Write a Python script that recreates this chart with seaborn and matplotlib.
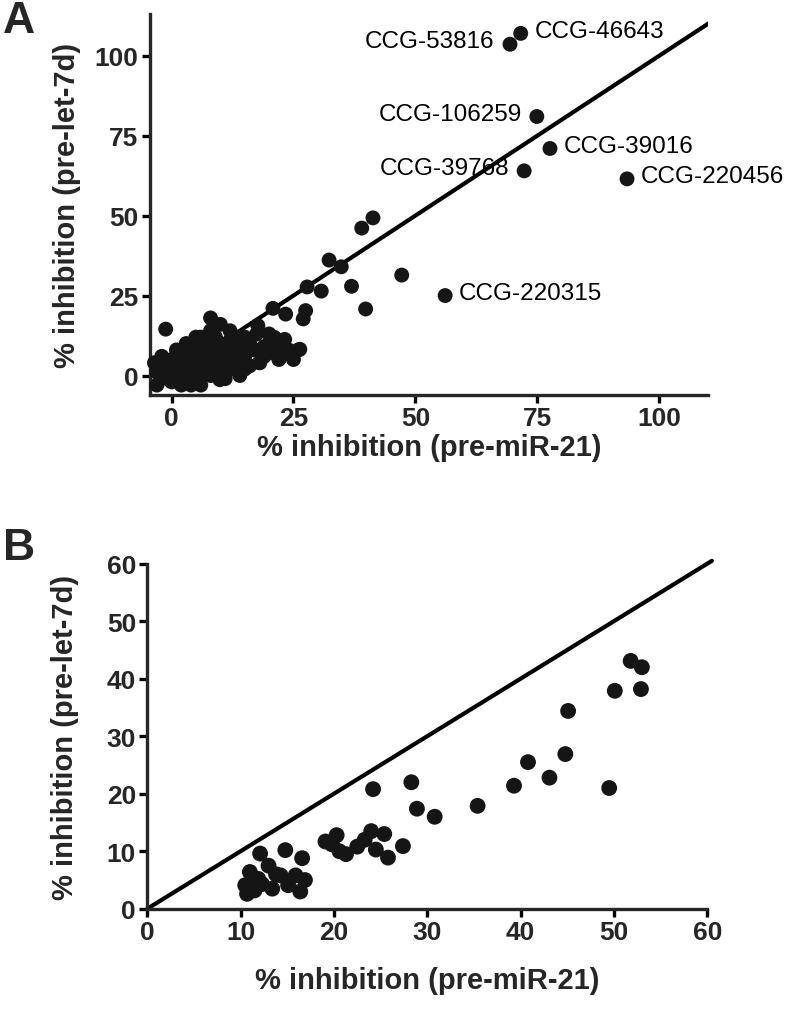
import numpy as np
import pandas as pd
import matplotlib
matplotlib.use("Agg")
import matplotlib.pyplot as plt
import seaborn as sns

# ---- panel A: pre-miR-21 vs pre-let-7d, full screen ----
a_x = [-3, -2, -3, -2, -3.5, -1, 0, 0, 0, 1, 1, 1, 2, 2, 2, 3, 3, 3, 4, 4, 4, 5, 5, 5,
       6, 6, 6, 7, 7, 7, 7, 8, 8, 8, 8, 8, 8, 9, 9, 9, 10, 10, 10, 11, 11, 12, 12, 13,
       13, 14, 14, 15, 15, 16, 17, 18, 19, 20, 21, 22, 23, 24, 26, -1.2, 9.9, 6, 4, 2,
       -2, 0, -1, 3, 5, 6, 12, 11, 14, 17.4, 17.7, 18.1, 20.8, 23.4, 21.1, 22.2, 23.2,
       26.3, 27.0, 27.5, 27.8, 30.7, 32.3, 34.8, 36.9, 39.0, 41.3, 47.2, 39.8, 13.6,
       1, 3, 5, 10, 12, 14, 16, 19, 20, 22, 25, 15, 18]
a_y = [-3, -1, 1, 3, 4, 0, -2, 1, 3, -1, 2, 5, 0, 3, 6, -2, 1, 4, 2, 5, 7, 0, 3, 6,
       1, 4, 8, 2, 5, 9, 12, 0, 3, 7, 10, 14, 18, 4, 8, 12, 1, 6, 10, 3, 8, 5, 11, 2,
       7, 4, 9, 6, 12, 3, 8, 4, 6, 10, 7, 5, 11, 8, 8, 14.5, -1.3, -3, -3, -3,
       6, 5, 2, 8, 10, 12, 2, -1, 0, 12.9, 15.6, 4.0, 21.0, 19.2, 11.9, 5.5, 11.3,
       8.2, 17.7, 20.3, 27.7, 26.4, 36.1, 34.0, 27.9, 46.1, 49.3, 31.4, 20.8, 8.7,
       8, 10, 12, 16, 14, 12, 10, 9, 13, 9, 5, 2, 8]

# labelled hits
hit_names = ["CCG-53816", "CCG-46643", "CCG-106259", "CCG-39016",
             "CCG-39768", "CCG-220456", "CCG-220315"]
hit_x = [69.4, 71.6, 74.9, 77.6, 72.3, 93.4, 56.1]
hit_y = [103.6, 107.0, 81.0, 71.0, 64.0, 61.5, 25.0]
hit_side = ["left", "right", "left", "right", "left", "right", "right"]

# ---- panel B: counter screen ----
b_x = [10.5, 10.7, 11.0, 11.9, 12.1, 13.0, 13.4, 14.3, 14.8, 15.1, 15.9, 16.4, 16.6,
       12.3, 11.5, 16.9, 13.8, 19.1, 20.3, 19.8, 20.6, 21.3, 22.5, 23.3, 24.0, 24.5,
       25.4, 25.8, 27.4, 24.2, 28.3, 28.9, 30.8, 35.4, 39.3, 40.8, 43.1, 44.8, 45.1,
       49.5, 50.1, 51.8, 52.9, 53.0]
b_y = [4.1, 2.6, 6.4, 5.2, 9.6, 7.5, 3.5, 5.8, 10.2, 4.1, 5.8, 3.0, 8.8,
       4.3, 3.2, 5.0, 6.0, 11.7, 12.8, 11.2, 10.0, 9.5, 10.8, 12.0, 13.5, 10.3,
       13.0, 8.9, 10.9, 20.8, 22.0, 17.4, 16.0, 17.9, 21.4, 25.5, 22.8, 26.9, 34.4,
       21.0, 37.9, 43.1, 38.2, 42.0]

diag_a = [-5, 113]
diag_b = [0, 60.5]

sns.set_theme(style="ticks")
plt.rcParams["font.family"] = ["Liberation Sans", "DejaVu Sans"]

DOT = "#151515"
fig = plt.figure(figsize=(8, 10.12), dpi=100)

ax_a = fig.add_axes([0.187, 0.609, 0.698, 0.376])
ax_b = fig.add_axes([0.184, 0.101, 0.700, 0.341])

df_a = pd.DataFrame({"x": a_x + hit_x, "y": a_y + hit_y})
sns.scatterplot(data=df_a, x="x", y="y", ax=ax_a, s=115, color=DOT,
                edgecolor="none", linewidth=0, clip_on=False, zorder=3)
ax_a.plot(diag_a, diag_a, color="black", lw=3.0, zorder=2)
ax_a.set_xlim(-4.5, 110)
ax_a.set_ylim(-6, 113)
ax_a.set_xticks([0, 25, 50, 75, 100])
ax_a.set_yticks([0, 25, 50, 75, 100])

for name, x, y, side in zip(hit_names, hit_x, hit_y, hit_side):
    dx = 10 if side == "right" else -11
    ax_a.annotate(name, (x, y), xytext=(dx, 2), textcoords="offset points",
                  ha="left" if side == "right" else "right", va="center",
                  fontsize=17.5, color="black")

df_b = pd.DataFrame({"x": b_x, "y": b_y})
sns.scatterplot(data=df_b, x="x", y="y", ax=ax_b, s=130, color=DOT,
                edgecolor="none", linewidth=0, zorder=3)
ax_b.plot(diag_b, diag_b, color="black", lw=3.0, zorder=2, clip_on=False)
ax_b.set_xlim(0, 60)
ax_b.set_ylim(0, 60)
ax_b.set_xticks(range(0, 61, 10))
ax_b.set_yticks(range(0, 61, 10))

for ax, xpad, ypad in ((ax_a, 2, 10), (ax_b, 16, 20)):
    sns.despine(ax=ax)
    ax.spines["left"].set_linewidth(2.4)
    ax.spines["bottom"].set_linewidth(2.4)
    ax.tick_params(direction="out", length=6, width=2.4, labelsize=19, pad=2, color="black")
    for lab in ax.get_xticklabels() + ax.get_yticklabels():
        lab.set_fontweight("bold")
    ax.set_xlabel("% inhibition (pre-miR-21)", fontsize=21, fontweight="bold", labelpad=xpad)
    ax.set_ylabel("% inhibition (pre-let-7d)", fontsize=21, fontweight="bold", labelpad=ypad)

fig.text(0.004, 0.999, "A", fontsize=32, fontweight="bold", va="top", ha="left")
fig.text(0.004, 0.478, "B", fontsize=32, fontweight="bold", va="top", ha="left")

fig.savefig("out.png", dpi=100)
